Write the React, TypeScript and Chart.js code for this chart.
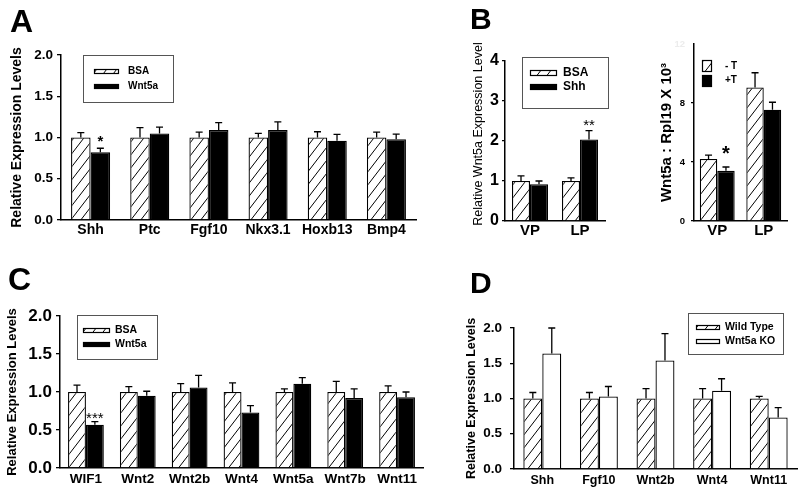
import React, { useEffect, useRef } from 'react';
import { Chart, registerables } from 'chart.js';

Chart.register(...registerables);

const FONT = '"Liberation Sans", Arial, sans-serif';

// ---------- Panel A ----------
const catsA = ['Shh', 'Ptc', 'Fgf10', 'Nkx3.1', 'Hoxb13', 'Bmp4'];
const bsaA = [1, 1, 1, 1, 1, 1];
const bsaErrA = [0.06, 0.12, 0.065, 0.05, 0.07, 0.065];
const wnt5aA = [0.82, 1.05, 1.09, 1.09, 0.96, 0.98];
const wnt5aErrA = [0.05, 0.075, 0.09, 0.1, 0.077, 0.06];
const starsA = ['*', '', '', '', '', ''];
const yTicksA = [0, 0.5, 1, 1.5, 2];

// ---------- Panel B (left) ----------
const catsB = ['VP', 'LP'];
const bsaB = [1, 1];
const bsaErrB = [0.13, 0.08];
const shhB = [0.92, 2.04];
const shhErrB = [0.08, 0.22];
const starsB = ['', '**'];
const yTicksB = [0, 1, 2, 3, 4];

// ---------- Panel B (right) ----------
const catsBr = ['VP', 'LP'];
const minusT = [4.2, 9.05];
const minusTErr = [0.26, 1.0];
const plusT = [3.4, 7.55];
const plusTErr = [0.26, 0.5];
const starsBr = ['*', ''];
const yTicksBr = [0, 4, 8, 12];

// ---------- Panel C ----------
const catsC = ['WIF1', 'Wnt2', 'Wnt2b', 'Wnt4', 'Wnt5a', 'Wnt7b', 'Wnt11'];
const bsaC = [1, 1, 1, 1, 1, 1, 1];
const bsaErrC = [0.09, 0.07, 0.11, 0.12, 0.04, 0.14, 0.08];
const wnt5aC = [0.57, 0.95, 1.06, 0.73, 1.11, 0.92, 0.93];
const wnt5aErrC = [0.04, 0.06, 0.16, 0.09, 0.08, 0.12, 0.07];
const starsC = ['***', '', '', '', '', '', ''];
const yTicksC = [0, 0.5, 1, 1.5, 2];

// ---------- Panel D ----------
const catsD = ['Shh', 'Fgf10', 'Wnt2b', 'Wnt4', 'Wnt11'];
const wtD = [1, 1, 1, 1, 1];
const wtErrD = [0.085, 0.085, 0.14, 0.14, 0.03];
const koD = [1.64, 1.03, 1.54, 1.11, 0.73];
const koErrD = [0.36, 0.14, 0.38, 0.17, 0.14];
const yTicksD = [0, 0.5, 1, 1.5, 2];

type Fill = 'hatch' | 'black' | 'white';
type Series = { label: string; values: number[]; err: number[]; fill: Fill; stars?: string[] };
type LegendSpec = {
  box?: [number, number, number, number];
  swX: number; swW: number; swH: number; textX: number; rows: number[]; font: string;
};
type Panel = {
  left: number; top: number; width: number; height: number;
  yAxisWidth: number; xAxisHeight: number; padTop: number; padRight: number;
  cats: string[]; series: Series[]; catPct: number;
  yTicks: number[]; yDec: number; yTickSize: number; tickLen: number; tickPad: number;
  title: string; titleSize: number; titleWeight: string; titlePad: number;
  xSize: number; xPad: number;
  legend: LegendSpec;
  starSize: number; starWeight: string; starGap: number;
  hideTop?: boolean;
};

const PANELS: Panel[] = [
  {
    left: 0, top: 0, width: 430, height: 245,
    yAxisWidth: 61, xAxisHeight: 25, padTop: 55, padRight: 14,
    cats: catsA, catPct: 0.66,
    series: [
      { label: 'BSA', values: bsaA, err: bsaErrA, fill: 'hatch' },
      { label: 'Wnt5a', values: wnt5aA, err: wnt5aErrA, fill: 'black', stars: starsA },
    ],
    yTicks: yTicksA, yDec: 1, yTickSize: 13.5, tickLen: 4, tickPad: 4,
    title: 'Relative Expression Levels', titleSize: 14, titleWeight: 'bold', titlePad: 9,
    xSize: 14, xPad: 2,
    legend: { box: [83, 55, 90, 47], swX: 94, swW: 25, swH: 5, textX: 128, rows: [71, 86], font: `bold 10px ${FONT}` },
    starSize: 15, starWeight: 'bold', starGap: 11,
  },
  {
    left: 455, top: 0, width: 165, height: 245,
    yAxisWidth: 50, xAxisHeight: 24, padTop: 61, padRight: 15,
    cats: catsB, catPct: 0.72,
    series: [
      { label: 'BSA', values: bsaB, err: bsaErrB, fill: 'hatch' },
      { label: 'Shh', values: shhB, err: shhErrB, fill: 'black', stars: starsB },
    ],
    yTicks: yTicksB, yDec: 0, yTickSize: 16, tickLen: 3, tickPad: 3,
    title: '    Relative Wnt5a Expression Level', titleSize: 12.5, titleWeight: 'normal', titlePad: 16.5,
    xSize: 15, xPad: 1,
    legend: { box: [67, 57, 86, 51], swX: 75, swW: 27, swH: 6, textX: 108, rows: [73, 87], font: `bold 12px ${FONT}` },
    starSize: 15, starWeight: 'normal', starGap: 9,
  },
  {
    left: 630, top: 0, width: 170, height: 245,
    yAxisWidth: 64, xAxisHeight: 24, padTop: 44, padRight: 13,
    cats: catsBr, catPct: 0.75,
    series: [
      { label: '- T', values: minusT, err: minusTErr, fill: 'hatch' },
      { label: '+T', values: plusT, err: plusTErr, fill: 'black', stars: starsBr },
    ],
    yTicks: yTicksBr, yDec: 0, yTickSize: 9.5, tickLen: 3, tickPad: 6,
    title: 'Wnt5a : Rpl19 X 10\u00B3', titleSize: 15, titleWeight: 'bold', titlePad: 28,
    xSize: 15, xPad: 1,
    legend: { swX: 72, swW: 10, swH: 12, textX: 95, rows: [66, 80.5], font: `bold 10px ${FONT}` },
    starSize: 20, starWeight: 'bold', starGap: 19,
    hideTop: true,
  },
  {
    left: 0, top: 245, width: 440, height: 244,
    yAxisWidth: 60, xAxisHeight: 21, padTop: 71, padRight: 17,
    cats: catsC, catPct: 0.69,
    series: [
      { label: 'BSA', values: bsaC, err: bsaErrC, fill: 'hatch' },
      { label: 'Wnt5a', values: wnt5aC, err: wnt5aErrC, fill: 'black', stars: starsC },
    ],
    yTicks: yTicksC, yDec: 1, yTickSize: 17, tickLen: 4, tickPad: 4,
    title: 'Relative Expression Levels', titleSize: 13, titleWeight: 'bold', titlePad: 4.7,
    xSize: 13.5, xPad: 3.5,
    legend: { box: [77, 70, 80, 44], swX: 83, swW: 27, swH: 5, textX: 115, rows: [85, 99], font: `bold 10.5px ${FONT}` },
    starSize: 15, starWeight: 'normal', starGap: 7,
  },
  {
    left: 440, top: 245, width: 360, height: 244,
    yAxisWidth: 74, xAxisHeight: 20, padTop: 83, padRight: 3,
    cats: catsD, catPct: 0.67,
    series: [
      { label: 'Wild Type', values: wtD, err: wtErrD, fill: 'hatch' },
      { label: 'Wnt5a KO', values: koD, err: koErrD, fill: 'white' },
    ],
    yTicks: yTicksD, yDec: 1, yTickSize: 13.5, tickLen: 4, tickPad: 8,
    title: 'Relative Expression Levels', titleSize: 12.5, titleWeight: 'bold', titlePad: 24.5,
    xSize: 12.5, xPad: 4,
    legend: { box: [248, 68, 95, 41], swX: 256, swW: 24, swH: 5, textX: 285, rows: [82, 96], font: `bold 10.5px ${FONT}` },
    starSize: 15, starWeight: 'normal', starGap: 7,
  },
];

function hatchPattern(): CanvasPattern | string {
  const c = document.createElement('canvas');
  c.width = 10;
  c.height = 13;
  const g = c.getContext('2d');
  if (!g) return '#fff';
  g.fillStyle = '#fff';
  g.fillRect(0, 0, 10, 13);
  g.strokeStyle = '#000';
  g.lineWidth = 1;
  for (let k = -1; k <= 1; k++) {
    g.beginPath();
    g.moveTo(-2, 13 + 2.6 + 13 * k);
    g.lineTo(12, 13 - 15.6 + 13 * k);
    g.stroke();
  }
  return g.createPattern(c, 'repeat') || '#fff';
}

function errorPlugin(p: Panel) {
  return {
    id: 'errbars',
    afterDatasetsDraw(chart: any) {
      const ctx = chart.ctx as CanvasRenderingContext2D;
      const ys = chart.scales.y;
      ctx.save();
      ctx.strokeStyle = '#000';
      ctx.lineWidth = 1.3;
      p.series.forEach((s, di) => {
        const meta = chart.getDatasetMeta(di);
        meta.data.forEach((el: any, i: number) => {
          const v = s.values[i];
          const e = s.err[i] || 0;
          const x = el.x;
          const y0 = ys.getPixelForValue(v);
          const y1 = ys.getPixelForValue(v + e);
          ctx.beginPath();
          ctx.moveTo(x, y0);
          ctx.lineTo(x, y1);
          ctx.moveTo(x - 3.5, y1);
          ctx.lineTo(x + 3.5, y1);
          ctx.stroke();
          const st = s.stars ? s.stars[i] : '';
          if (st) {
            ctx.fillStyle = '#000';
            ctx.font = `${p.starWeight} ${p.starSize}px ${FONT}`;
            ctx.textAlign = 'center';
            ctx.textBaseline = 'alphabetic';
            ctx.fillText(st, x, y1 - p.starGap + 0.575 * p.starSize);
          }
        });
      });
      ctx.restore();
    },
  };
}

function legendPlugin(p: Panel) {
  return {
    id: 'boxlegend',
    afterDraw(chart: any) {
      const ctx = chart.ctx as CanvasRenderingContext2D;
      const L = p.legend;
      ctx.save();
      if (L.box) {
        ctx.strokeStyle = '#555';
        ctx.lineWidth = 1;
        ctx.strokeRect(L.box[0] + 0.5, L.box[1] + 0.5, L.box[2], L.box[3]);
      }
      chart.data.datasets.forEach((ds: any, i: number) => {
        const y = L.rows[i];
        const top = Math.round(y - L.swH / 2);
        ctx.fillStyle = ds.backgroundColor;
        ctx.fillRect(L.swX, top, L.swW, L.swH);
        ctx.strokeStyle = '#000';
        ctx.lineWidth = 1.2;
        ctx.strokeRect(L.swX + 0.5, top + 0.5, L.swW - 1, L.swH - 1);
        ctx.fillStyle = '#000';
        ctx.font = L.font;
        ctx.textAlign = 'left';
        ctx.textBaseline = 'middle';
        ctx.fillText(ds.label, L.textX, y);
      });
      ctx.restore();
    },
  };
}

function makeChart(canvas: HTMLCanvasElement, p: Panel) {
  const pat = hatchPattern();
  const fillOf = (f: Fill) => (f === 'hatch' ? pat : f === 'black' ? '#000' : '#fff');
  const yMax = p.yTicks[p.yTicks.length - 1];
  const step = p.yTicks[1] - p.yTicks[0];
  return new Chart(canvas, {
    type: 'bar',
    data: {
      labels: p.cats,
      datasets: p.series.map((s) => ({
        label: s.label,
        data: s.values,
        backgroundColor: fillOf(s.fill) as any,
        borderColor: '#000',
        borderWidth: 1.3,
        barPercentage: 1,
        categoryPercentage: p.catPct,
      })),
    },
    options: {
      responsive: false,
      animation: false,
      events: [],
      layout: { padding: { top: p.padTop, right: p.padRight, left: 0, bottom: 0 } },
      plugins: { legend: { display: false }, tooltip: { enabled: false } },
      scales: {
        x: {
          type: 'category',
          offset: true,
          grid: { display: false, drawTicks: false },
          border: { display: true, color: '#000', width: 1.5 },
          ticks: {
            color: '#000',
            font: { family: FONT, size: p.xSize, weight: 'bold' },
            padding: p.xPad,
            maxRotation: 0,
            autoSkip: false,
          },
          afterFit: (s: any) => {
            s.height = p.xAxisHeight;
          },
        },
        y: {
          min: 0,
          max: yMax,
          ticks: {
            stepSize: step,
            color: (c: any) => (p.hideTop && c.tick && c.tick.value === yMax ? '#ececec' : '#000'),
            font: { family: FONT, size: p.yTickSize, weight: 'bold' },
            padding: p.tickPad,
            callback: (v: any) => Number(v).toFixed(p.yDec),
          },
          grid: {
            display: true,
            drawOnChartArea: false,
            drawTicks: true,
            tickLength: p.tickLen,
            color: (c: any) => (p.hideTop && c.tick && c.tick.value === yMax ? 'rgba(0,0,0,0)' : '#000'),
            lineWidth: 1.3,
          },
          border: { display: true, color: '#000', width: 1.5 },
          title: {
            display: true,
            text: p.title,
            color: '#000',
            font: { family: FONT, size: p.titleSize, weight: p.titleWeight as any },
            padding: { top: p.titlePad, bottom: 0 },
          },
          afterFit: (s: any) => {
            s.width = p.yAxisWidth;
          },
        },
      },
    } as any,
    plugins: [errorPlugin(p), legendPlugin(p)],
  });
}

const LETTERS = [
  { t: 'A', left: 10, top: 5, size: 32 },
  { t: 'B', left: 470, top: 4, size: 30 },
  { t: 'C', left: 8, top: 263, size: 32 },
  { t: 'D', left: 470, top: 268, size: 30 },
];

export default function App() {
  const canvases = useRef<(HTMLCanvasElement | null)[]>([]);
  useEffect(() => {
    const charts = PANELS.map((p, i) => makeChart(canvases.current[i] as HTMLCanvasElement, p));
    return () => charts.forEach((c) => c.destroy());
  }, []);
  return (
    <div
      style={{
        position: 'fixed', left: 0, top: 0, width: 800, height: 489,
        background: '#fff', overflow: 'hidden', fontFamily: FONT,
      }}
    >
      {PANELS.map((p, i) => (
        <canvas
          key={i}
          ref={(el) => { canvases.current[i] = el; }}
          width={p.width}
          height={p.height}
          style={{ position: 'absolute', left: p.left, top: p.top, width: p.width, height: p.height }}
        />
      ))}
      {LETTERS.map((l) => (
        <div
          key={l.t}
          style={{
            position: 'absolute', left: l.left, top: l.top, fontSize: l.size,
            fontWeight: 'bold', lineHeight: 1, color: '#000', fontFamily: FONT,
          }}
        >
          {l.t}
        </div>
      ))}
    </div>
  );
}
